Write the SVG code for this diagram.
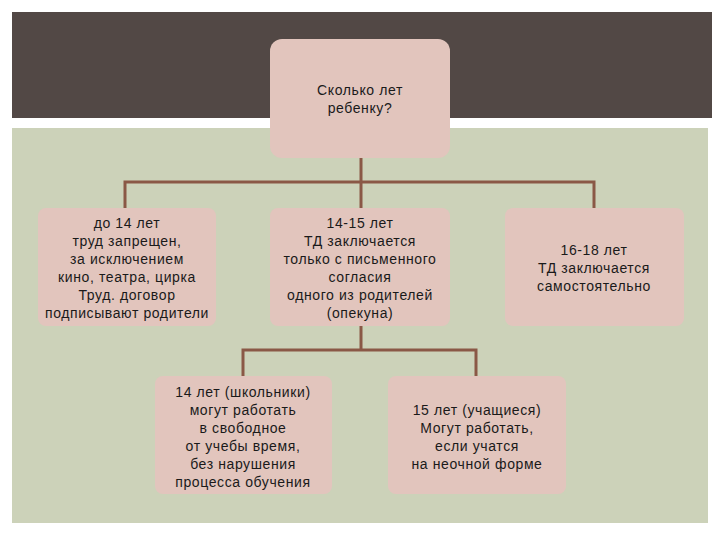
<svg xmlns="http://www.w3.org/2000/svg" width="720" height="540" viewBox="0 0 720 540">
<style>
.node{fill:#e2c5bd}
.t{font-family:"Liberation Sans",Arial,sans-serif;font-size:14px;letter-spacing:0.6px;fill:#1a1a1a;text-anchor:middle}
.c{fill:none;stroke:#8a5846;stroke-width:3}
</style>
<rect x="0" y="0" width="720" height="540" fill="#ffffff"/>
<rect x="12" y="12" width="700" height="106" fill="#524845"/>
<rect x="12" y="128" width="696" height="395" fill="#ccd2b9"/>
<g id="connectors">
<path class="c" d="M361 158V182M125 208V182H594V208M361 182V208"/>
<path class="c" d="M361 326V350M243 376V350H476V376"/>
</g>
<g id="root">
<rect class="node" x="270" y="39" width="180" height="119" rx="12"/>
<text class="t" x="360" y="95">Сколько лет</text>
<text class="t" x="360" y="113">ребенку?</text>
</g>
<g id="n1">
<rect class="node" x="38" y="208" width="178" height="118" rx="8"/>
<text class="t" x="127" y="228">до 14 лет</text>
<text class="t" x="127" y="246">труд запрещен,</text>
<text class="t" x="127" y="264">за исключением</text>
<text class="t" x="127" y="282">кино, театра, цирка</text>
<text class="t" x="127" y="300">Труд. договор</text>
<text class="t" x="127" y="318">подписывают родители</text>
</g>
<g id="n2">
<rect class="node" x="270" y="208" width="180" height="118" rx="8"/>
<text class="t" x="360" y="228">14-15 лет</text>
<text class="t" x="360" y="246">ТД заключается</text>
<text class="t" x="360" y="264">только с письменного</text>
<text class="t" x="360" y="282">согласия</text>
<text class="t" x="360" y="300">одного из родителей</text>
<text class="t" x="360" y="318">(опекуна)</text>
</g>
<g id="n3">
<rect class="node" x="505" y="208" width="179" height="118" rx="8"/>
<text class="t" x="594" y="255">16-18 лет</text>
<text class="t" x="594" y="273">ТД заключается</text>
<text class="t" x="594" y="291">самостоятельно</text>
</g>
<g id="n4">
<rect class="node" x="155" y="376" width="177" height="118" rx="8"/>
<text class="t" x="243" y="397">14 лет (школьники)</text>
<text class="t" x="243" y="415">могут работать</text>
<text class="t" x="243" y="433">в свободное</text>
<text class="t" x="243" y="451">от учебы время,</text>
<text class="t" x="243" y="469">без нарушения</text>
<text class="t" x="243" y="487">процесса обучения</text>
</g>
<g id="n5">
<rect class="node" x="388" y="376" width="178" height="118" rx="8"/>
<text class="t" x="477" y="415">15 лет (учащиеся)</text>
<text class="t" x="477" y="433">Могут работать,</text>
<text class="t" x="477" y="451">если учатся</text>
<text class="t" x="477" y="469">на неочной форме</text>
</g>
</svg>
